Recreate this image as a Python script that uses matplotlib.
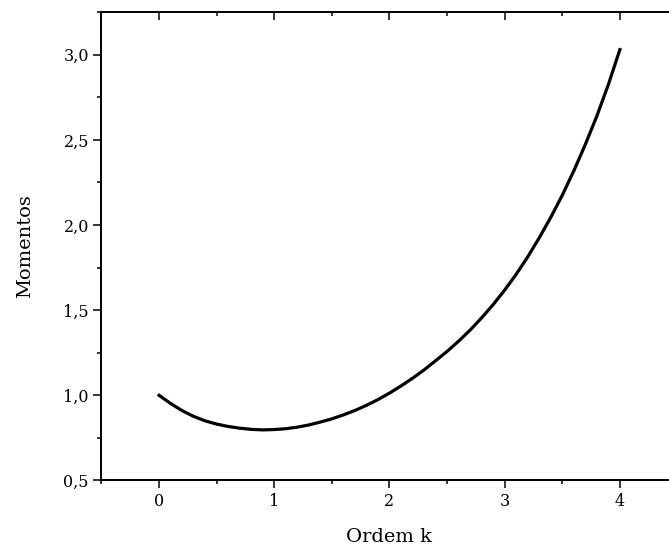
import matplotlib
matplotlib.use('Agg')
from matplotlib import pyplot as plt
from matplotlib.ticker import MultipleLocator, FuncFormatter

# ordem k e momentos correspondentes
ordem = [0.0, 0.1, 0.2, 0.3, 0.4, 0.5, 0.6, 0.7, 0.8, 0.9,
         1.0, 1.1, 1.2, 1.3, 1.4, 1.5, 1.6, 1.7, 1.8, 1.9,
         2.0, 2.1, 2.2, 2.3, 2.4, 2.5, 2.6, 2.7, 2.8, 2.9,
         3.0, 3.1, 3.2, 3.3, 3.4, 3.5, 3.6, 3.7, 3.8, 3.9, 4.0]
momentos = [1.000, 0.952, 0.910, 0.876, 0.850, 0.831, 0.817, 0.807, 0.800, 0.797,
            0.799, 0.804, 0.813, 0.826, 0.843, 0.862, 0.885, 0.911, 0.941, 0.975,
            1.013, 1.055, 1.100, 1.149, 1.203, 1.258, 1.318, 1.383, 1.455, 1.533,
            1.618, 1.711, 1.813, 1.925, 2.045, 2.175, 2.318, 2.473, 2.640, 2.825, 3.030]

plt.rcParams['font.family'] = 'DejaVu Serif'

fig = plt.figure(figsize=(6.69, 5.51), dpi=100)
ax = fig.add_axes([0.1517, 0.128, 0.861, 0.850])

ax.plot(ordem, momentos, color='k', lw=2.3, solid_joinstyle='round')

xlim = (-0.5, 4.5)
ylim = (0.5, 3.25)
ax.set_xlim(*xlim)
ax.set_ylim(*ylim)
ax.xaxis.set_major_locator(MultipleLocator(1))
ax.xaxis.set_minor_locator(MultipleLocator(0.5))
ax.yaxis.set_major_locator(MultipleLocator(0.5))
ax.yaxis.set_minor_locator(MultipleLocator(0.25))
ax.yaxis.set_major_formatter(FuncFormatter(lambda v, p: f'{v:.1f}'.replace('.', ',')))

ax.tick_params(which='both', direction='out', width=1.1, labelsize=11.5,
               top=False, right=False)
ax.tick_params(which='major', length=5.5)
ax.tick_params(which='minor', length=3)

# ticks no topo e na direita, para dentro, sem rotulos
ax_top = ax.twiny()
ax_top.set_xlim(*xlim)
ax_top.xaxis.set_major_locator(MultipleLocator(1))
ax_top.xaxis.set_minor_locator(MultipleLocator(0.5))
ax_top.tick_params(which='both', direction='in', width=1.1, labeltop=False)
ax_top.tick_params(which='major', length=5.5)
ax_top.tick_params(which='minor', length=3)

ax_right = ax.twinx()
ax_right.set_ylim(*ylim)
ax_right.yaxis.set_major_locator(MultipleLocator(0.5))
ax_right.yaxis.set_minor_locator(MultipleLocator(0.25))
ax_right.tick_params(which='both', direction='in', width=1.1, labelright=False)
ax_right.tick_params(which='major', length=5)
ax_right.tick_params(which='minor', length=3)

for a in (ax, ax_top, ax_right):
    for s in a.spines.values():
        s.set_linewidth(1.1)

ax.set_xlabel('Ordem k', fontsize=14, labelpad=13)
ax.set_ylabel('Momentos', fontsize=14, labelpad=21)

fig.savefig('out.png', dpi=100)
